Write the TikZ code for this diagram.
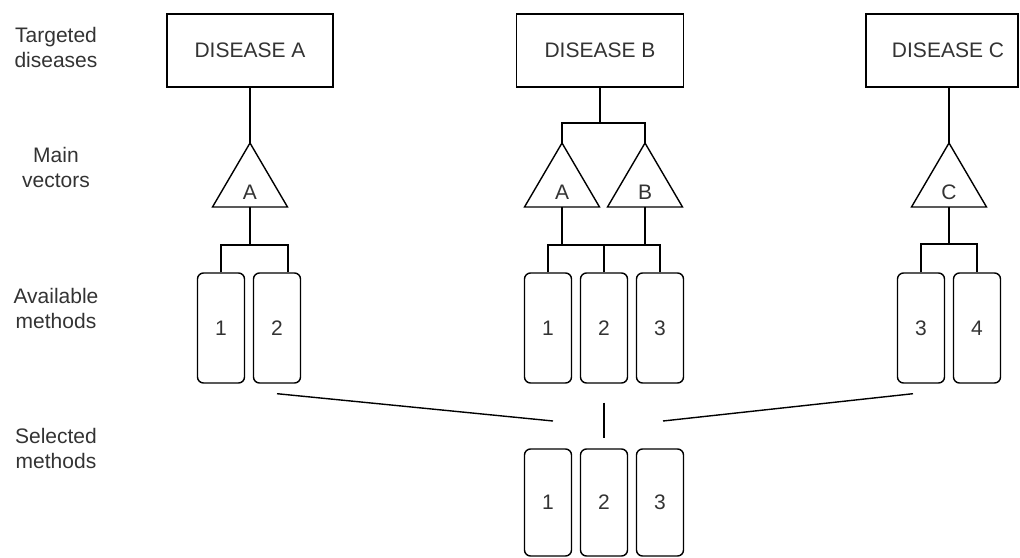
\documentclass[tikz,border=0pt]{standalone}
\usepackage{fontspec}
\setmainfont{Liberation Sans}
\usetikzlibrary{calc}
\tikzset{
  ln/.style={draw=black, line width=1.4pt},
  txt/.style={font=\fontsize{21}{25}\selectfont, text=black!80, inner sep=0pt},
  lbl/.style={txt, align=center},
  dbox/.style={ln, rectangle, txt, minimum height=73pt},
  mbox/.style={ln, rectangle, rounded corners=6pt, txt, minimum width=47pt, minimum height=110pt},
}
\newcommand\vectri[3]{%
  \coordinate (#1-top) at (#2,143);
  \coordinate (#1-bot) at (#2,207);
  \draw[ln, line join=miter] (#1-top) -- ++(37.5,64) -- ++(-75,0) -- cycle;
  \node[txt] (#1) at (#2,192) {#3};
}
\begin{document}
\begin{tikzpicture}[x=1pt, y=-1pt]
\useasboundingbox (0,0) rectangle (1020,557);
% row labels
\node[lbl] (l1) at (56,47) {Targeted\\diseases};
\node[lbl] (l2) at (56,167) {Main\\vectors};
\node[lbl] (l3) at (56,308) {Available\\methods};
\node[lbl] (l4) at (56,448) {Selected\\methods};
% diseases
\node[dbox, minimum width=166pt] (dA) at (250,50.5) {DISEASE A};
\node[dbox, minimum width=167pt] (dB) at (600,50.5) {DISEASE B};
\node[dbox, minimum width=152pt] (dC) at (942,50.5) {\hspace{12pt}DISEASE C};
% vectors
\vectri{tA}{250}{A}
\vectri{tBA}{562}{A}
\vectri{tBB}{645}{B}
\vectri{tC}{949}{C}
% available methods
\node[mbox] (mA1) at (221,328) {1};
\node[mbox] (mA2) at (277,328) {2};
\node[mbox] (mB1) at (548,328) {1};
\node[mbox] (mB2) at (604,328) {2};
\node[mbox] (mB3) at (660,328) {3};
\node[mbox] (mC3) at (921,328) {3};
\node[mbox] (mC4) at (977,328) {4};
% selected methods
\node[mbox, minimum height=107pt] (s1) at (548,502.5) {1};
\node[mbox, minimum height=107pt] (s2) at (604,502.5) {2};
\node[mbox, minimum height=107pt] (s3) at (660,502.5) {3};
% disease -> vectors
\draw[ln] (dA.south -| tA-top) -- (tA-top);
\coordinate (jB) at (600,123);
\draw[ln] (dB.south) -- (jB);
\draw[ln] (tBA-top) |- (jB) -| (tBB-top);
\draw[ln] (tC-top |- dC.south) -- (tC-top);
% vectors -> methods
\coordinate (bA) at (250,245);
\draw[ln] (tA-bot) -- (bA);
\draw[ln] (mA1.north) |- (bA);
\draw[ln] ($(mA2.north)+(11,0)$) |- (bA);
\coordinate (bB) at (562,245);
\draw[ln] (tBA-bot) -- (bB);
\draw[ln] (tBB-bot) -- (tBB-bot |- bB);
\draw[ln] (mB1.north) |- (bB) -| (mB3.north);
\draw[ln] (mB2.north) -- (mB2.north |- bB);
\coordinate (bC) at (949,244);
\draw[ln] (tC-bot) -- (bC);
\draw[ln] (mC3.north) |- (bC) -| (mC4.north);
% selection lines
\coordinate (eL) at (553,421);
\coordinate (eR) at (663,421);
\draw[ln] ($(mA2.south)+(0,10)$) -- (eL);
\draw[ln] ($(mC3.south)+(-8,10)$) -- (eR);
\draw[ln] ($(mB2.south)+(0,19)$) -- ($(s2.north)+(0,-10)$);
\end{tikzpicture}
\end{document}
